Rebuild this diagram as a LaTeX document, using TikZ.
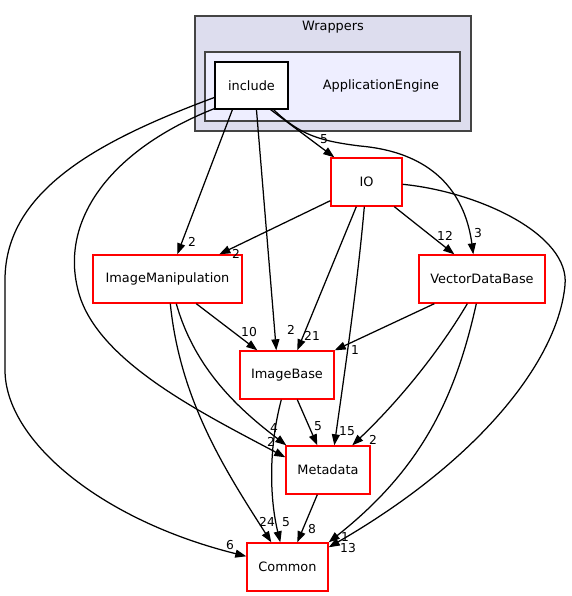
\documentclass[tikz,border=0pt]{standalone}
\usepackage{fontspec}
\setmainfont{DejaVu Sans}
\usetikzlibrary{arrows.meta,calc}
\definecolor{wrapfill}{HTML}{DDDDEE}
\definecolor{appfill}{HTML}{EEEEFF}
\definecolor{clline}{HTML}{444444}
\definecolor{dirred}{HTML}{FF0000}
\tikzset{
  dirbox/.style={draw=dirred, line width=1.4pt, fill=white, inner sep=0pt, minimum height=48pt,
    font=\fontsize{12.9}{14}\selectfont},
  incbox/.style={draw=black, line width=1.1pt, fill=white, inner sep=0pt,
    font=\fontsize{12.9}{14}\selectfont},
  cluster/.style={draw=clline, line width=1.4pt},
  cltext/.style={inner sep=0pt, font=\fontsize{12.9}{14}\selectfont},
  edge/.style={draw=black, line width=1.25pt, -{Triangle[length=11pt,width=8pt]}},
  elabel/.style={inner sep=0pt, font=\fontsize{12.3}{14}\selectfont}
}
\begin{document}
\begin{tikzpicture}[x=1pt,y=-1pt]
\useasboundingbox (0,0) rectangle (571,596);
\fill[white] (0,0) rectangle (571,596);
% clusters
\draw[cluster, fill=wrapfill] (195,16) rectangle (471,131);
\node[cltext] (wraptitle) at (333,27) {Wrappers};
\draw[cluster, fill=appfill] (205,52) rectangle (460,121);
\node[cltext] (apptitle) at (381,86) {ApplicationEngine};
% nodes
\node[incbox, minimum width=73pt, minimum height=47pt] (include) at (251.5,85.5) {include};
\node[dirbox, minimum width=71pt] (IO) at (366.5,182) {IO};
\node[dirbox, minimum width=149pt] (IM) at (167.5,279) {ImageManipulation};
\node[dirbox, minimum width=126pt] (VDB) at (482,279) {VectorDataBase};
\node[dirbox, minimum width=94pt] (IB) at (287,375) {ImageBase};
\node[dirbox, minimum width=84pt] (MD) at (328,470) {Metadata};
\node[dirbox, minimum width=81pt] (CM) at (287.5,567) {Common};
% edges
\draw[edge] ($(include.south west)+(18,0)$) -- ($(IM.north west)+(85,0)$);
\node[elabel] (l1) at (192,242) {2};
\draw[edge] ($(include.south west)+(42,0)$) -- ($(IB.north west)+(37,0)$);
\node[elabel] (l2) at (291,330) {2};
\draw[edge] ($(include.south west)+(56,0)$) -- ($(IO.north west)+(4,0)$);
\node[elabel] (l3) at (324,139) {5};
\draw[edge] ($(include.south west)+(59,0)$) .. controls (300,135) and (320,141) .. (360,146)
  .. controls (440,153) and (466,200) .. ($(VDB.north west)+(55,0)$);
\node[elabel] (l4) at (478,233) {3};
\draw[edge] ($(include.south west)+(0,-1)$) .. controls (110,150) and (60,220) .. (78,290)
  .. controls (95,360) and (200,412) .. ($(MD.north west)+(0,12)$);
\node[elabel] (l5) at (271,442) {2};
\draw[edge] ($(include.north west)+(0,36)$) .. controls (100,140) and (5,190) .. (5,280)
  -- (5,370) .. controls (5,440) and (100,520) .. ($(CM.north west)+(0,14)$);
\node[elabel] (l6) at (230,545) {6};
\draw[edge] ($(IO.south west)+(0,-6)$) -- ($(IM.north west)+(127,0)$);
\node[elabel] (l7) at (236,254) {2};
\draw[edge] ($(IO.south west)+(26,0)$) -- ($(IB.north west)+(58,0)$);
\node[elabel] (l8) at (312,336) {21};
\draw[edge] ($(IO.south west)+(34,0)$) .. controls (358,280) and (345,370) .. ($(MD.north west)+(49,0)$);
\node[elabel] (l9) at (347,431) {15};
\draw[edge] ($(IO.south west)+(64,0)$) -- ($(VDB.north west)+(36,0)$);
\node[elabel] (l10) at (445,236) {12};
\draw[edge] ($(IO.north east)+(0,27)$) .. controls (480,192) and (570,235) .. (565,285)
  .. controls (558,360) and (480,460) .. ($(CM.north east)+(0,5)$);
\node[elabel] (l11) at (348,548) {13};
\draw[edge] ($(IM.south west)+(104,0)$) -- ($(IB.north west)+(18,0)$);
\node[elabel] (l12) at (249,332) {10};
\draw[edge] ($(IM.south west)+(84,0)$) .. controls (195,370) and (240,410) .. ($(MD.north west)+(1,0)$);
\node[elabel] (l13) at (274,428) {4};
\draw[edge] ($(IM.south west)+(78,0)$) .. controls (180,400) and (225,470) .. ($(CM.north west)+(25,0)$);
\node[elabel] (l14) at (267,522) {24};
\draw[edge] ($(VDB.south west)+(16,0)$) -- (IB.north east);
\node[elabel] (l15) at (355,350) {1};
\draw[edge] ($(VDB.south west)+(49,0)$) .. controls (440,350) and (400,400) .. ($(MD.north west)+(67,0)$);
\node[elabel] (l16) at (373,440) {2};
\draw[edge] ($(VDB.south west)+(58,0)$) .. controls (455,400) and (420,470) .. (CM.north east);
\node[elabel] (l17) at (345,537) {1};
\draw[edge] ($(IB.south west)+(58,0)$) -- ($(MD.north west)+(32,0)$);
\node[elabel] (l18) at (318,426) {5};
\draw[edge] ($(IB.south west)+(42,0)$) .. controls (268,450) and (270,500) .. ($(CM.north west)+(34,0)$);
\node[elabel] (l19) at (286,522) {5};
\draw[edge] ($(MD.south west)+(32,0)$) -- ($(CM.north west)+(51,0)$);
\node[elabel] (l20) at (312,529) {8};
\end{tikzpicture}
\end{document}
